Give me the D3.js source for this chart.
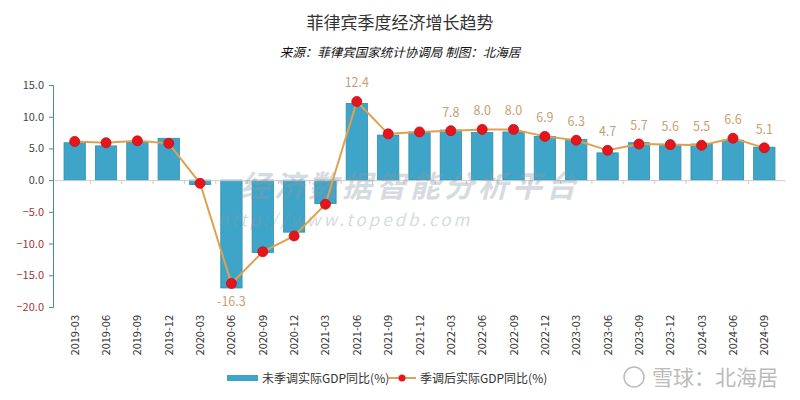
<!DOCTYPE html>
<html lang="zh">
  <head>
    <meta charset="UTF-8" />
    <script src="https://d3js.org/d3.v7.min.js"></script>
    <title>菲律宾季度经济增长趋势</title>
    <style>
      body { margin: 0; background: #fff; }
      text { font-family: "Noto Sans CJK SC", "Liberation Sans", sans-serif; }
    </style>
  </head>
  <body>
    <svg width="800" height="400"></svg>
  </body>
  <script>
    // data
    const quarters = ['2019-03', '2019-06', '2019-09', '2019-12', '2020-03', '2020-06', '2020-09', '2020-12',
      '2021-03', '2021-06', '2021-09', '2021-12', '2022-03', '2022-06', '2022-09', '2022-12',
      '2023-03', '2023-06', '2023-09', '2023-12', '2024-03', '2024-06', '2024-09'];
    const rawGdp = [5.9, 5.4, 6.0, 6.6, -0.7, -17.0, -11.4, -8.2, -3.7, 12.1, 7.1, 7.6, 7.9, 7.5, 7.6, 6.9,
      6.4, 4.3, 5.9, 5.5, 5.7, 6.3, 5.2];
    const adjGdp = [6.1, 5.9, 6.2, 5.8, -0.5, -16.3, -11.3, -8.8, -3.8, 12.4, 7.3, 7.6, 7.8, 8.0, 8.0, 6.9,
      6.3, 4.7, 5.7, 5.6, 5.5, 6.6, 5.1];
    const showLabel = [false, false, false, false, false, true, false, false, false, true, false, false,
      true, true, true, true, true, true, true, true, true, true, true];
    const yTicks = [15, 10, 5, 0, -5, -10, -15, -20];

    const svg = d3.select('svg');

    // title
    svg.append('text').attr('x', 400).attr('y', 29).attr('text-anchor', 'middle')
      .attr('font-size', '17px').attr('fill', '#333').text('菲律宾季度经济增长趋势');
    svg.append('text').attr('x', 400).attr('y', 57).attr('text-anchor', 'middle')
      .attr('font-size', '12.5px').attr('font-style', 'italic').attr('fill', '#111')
      .text('来源：菲律宾国家统计协调局  制图：北海居');

    // scales
    const x = d3.scaleBand().domain(quarters).range([54, 785]).padding(0.32);
    const y = d3.scaleLinear().domain([-20, 15]).range([307, 85]);

    // y axis
    const yAxis = svg.append('g').attr('transform', 'translate(53,0)')
      .call(d3.axisLeft(y).tickValues(yTicks).tickFormat(d3.format('.1f')).tickSize(4));
    yAxis.select('.domain').attr('stroke', '#4a8ba0');
    yAxis.selectAll('.tick line').attr('stroke', '#4a8ba0');
    yAxis.selectAll('.tick text').attr('font-size', '11px').attr('x', -9)
      .attr('fill', (d) => (d < 0 ? '#a3333a' : '#444'))
      .attr('font-family', 'Liberation Sans, Arial, sans-serif');

    // bars
    svg.selectAll('.bar').data(rawGdp).join('rect')
      .attr('class', 'bar')
      .attr('x', (d, i) => x(quarters[i]))
      .attr('y', (d) => y(Math.max(0, d)))
      .attr('width', x.bandwidth())
      .attr('height', (d) => Math.abs(y(d) - y(0)))
      .attr('fill', '#3ea5c8')
      .attr('stroke', '#2f8fae')
      .attr('stroke-width', 0.8);

    // x axis at zero
    const xAxis = svg.append('g').attr('transform', `translate(0,${y(0)})`)
      .call(d3.axisBottom(x).tickSize(0).tickFormat(''));
    xAxis.select('.domain').attr('stroke', '#ccc');
    xAxis.selectAll('.sep').data(quarters.slice(1)).join('line')
      .attr('class', 'sep')
      .attr('x1', (d) => x(d) - (x.step() * x.padding()) / 2)
      .attr('x2', (d) => x(d) - (x.step() * x.padding()) / 2)
      .attr('y1', 0).attr('y2', 4).attr('stroke', '#ccc');

    // x labels at the bottom
    svg.selectAll('.xl').data(quarters).join('text')
      .attr('class', 'xl')
      .attr('transform', (d) => `translate(${x(d) + x.bandwidth() / 2 + 4},315) rotate(-90)`)
      .attr('text-anchor', 'end')
      .attr('font-size', '11px')
      .attr('font-family', 'Liberation Sans, Arial, sans-serif')
      .attr('fill', '#333')
      .text((d) => d);

    // watermark
    svg.append('text').attr('x', 410).attr('y', 197).attr('text-anchor', 'middle')
      .attr('font-size', '30px').attr('font-weight', 'bold').attr('font-style', 'italic')
      .attr('fill', '#8a9aa8').attr('opacity', 0.35).attr('letter-spacing', 4).text('经济数据智能分析平台');
    svg.append('text').attr('x', 345).attr('y', 226).attr('text-anchor', 'middle')
      .attr('font-size', '17px').attr('font-style', 'italic')
      .attr('font-family', 'DejaVu Serif, serif')
      .attr('fill', '#8a9aa8').attr('opacity', 0.35).attr('letter-spacing', 3).text('http://www.topedb.com');

    // line
    const line = d3.line().x((d, i) => x(quarters[i]) + x.bandwidth() / 2).y((d) => y(d));
    svg.append('path').datum(adjGdp).attr('d', line)
      .attr('fill', 'none').attr('stroke', '#e0a050').attr('stroke-width', 2);
    svg.selectAll('.dot').data(adjGdp).join('circle')
      .attr('class', 'dot')
      .attr('cx', (d, i) => x(quarters[i]) + x.bandwidth() / 2)
      .attr('cy', (d) => y(d))
      .attr('r', 5)
      .attr('fill', '#e8141c')
      .attr('stroke', '#c01010')
      .attr('stroke-width', 0.8);

    // data labels
    svg.selectAll('.lbl').data(adjGdp.map((v, i) => ({ v, i })).filter((d) => showLabel[d.i])).join('text')
      .attr('class', 'lbl')
      .attr('x', (d) => x(quarters[d.i]) + x.bandwidth() / 2)
      .attr('y', (d) => (d.v < 0 ? y(d.v) + 22 : y(d.v) - 14))
      .attr('text-anchor', 'middle')
      .attr('font-size', '12.5px')
      .attr('font-family', 'Liberation Sans, Arial, sans-serif')
      .attr('fill', '#c9a070')
      .text((d) => d.v.toFixed(1));

    // legend
    const lg = svg.append('g');
    lg.append('rect').attr('x', 227).attr('y', 375).attr('width', 31).attr('height', 6).attr('fill', '#3ea5c8');
    lg.append('text').attr('x', 262).attr('y', 383).attr('font-size', '12px').attr('fill', '#333')
      .text('未季调实际GDP同比(%)');
    lg.append('line').attr('x1', 388).attr('x2', 416).attr('y1', 378).attr('y2', 378)
      .attr('stroke', '#e0a050').attr('stroke-width', 2);
    lg.append('circle').attr('cx', 402).attr('cy', 378).attr('r', 3.5).attr('fill', '#e8141c');
    lg.append('text').attr('x', 420).attr('y', 383).attr('font-size', '12px').attr('fill', '#333')
      .text('季调后实际GDP同比(%)');

    // bottom-right mark
    svg.append('circle').attr('cx', 634).attr('cy', 377).attr('r', 10)
      .attr('fill', 'none').attr('stroke', '#bbb').attr('stroke-width', 1.5);
    svg.append('text').attr('x', 652).attr('y', 385).attr('font-size', '21px').attr('fill', '#bbb')
      .text('雪球：北海居');
  </script>
</html>
